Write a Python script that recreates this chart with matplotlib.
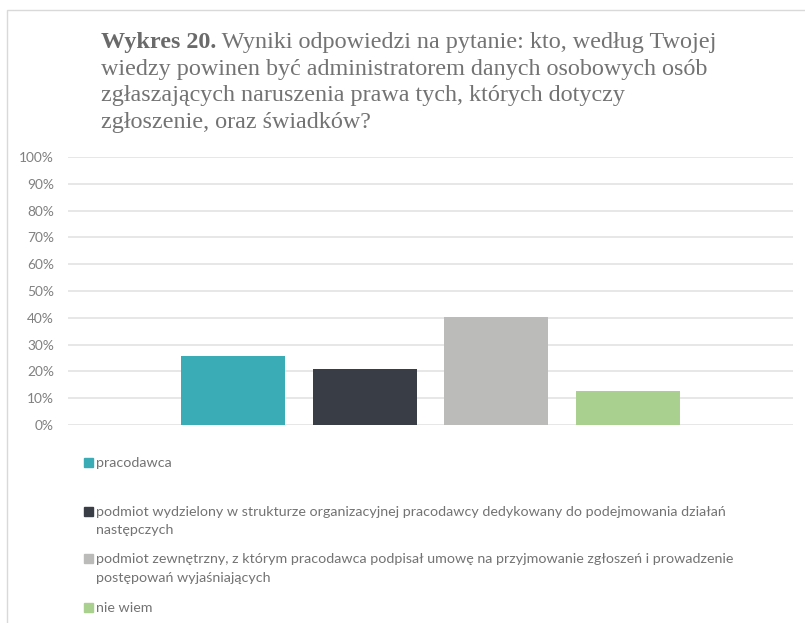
import matplotlib
matplotlib.use("Agg")
import matplotlib.pyplot as plt
from matplotlib.patches import Rectangle
from matplotlib.ticker import PercentFormatter

# --- data ---
categories = [
    ["pracodawca"],
    ["podmiot wydzielony w strukturze organizacyjnej pracodawcy dedykowany do podejmowania działań",
     "następczych"],
    ["podmiot zewnętrzny, z którym pracodawca podpisał umowę na przyjmowanie zgłoszeń i prowadzenie",
     "postępowań wyjaśniających"],
    ["nie wiem"],
]
values = [0.257, 0.209, 0.403, 0.127]
colors = ["#3AACB5", "#393D46", "#BBBBBA", "#A9D08E"]
yticks = [i / 10 for i in range(11)]

title_bold = "Wykres 20."
title_lines = [
    " Wyniki odpowiedzi na pytanie: kto, według Twojej",
    "wiedzy powinen być administratorem danych osobowych osób",
    "zgłaszających naruszenia prawa tych, których dotyczy",
    "zgłoszenie, oraz świadków?",
]

W, H = 805, 623
DPI = 100
fig = plt.figure(figsize=(W / DPI, H / DPI), dpi=DPI)
fig.patch.set_facecolor("white")

def fx(px):
    return px / W

def fy(py):
    return 1 - py / H

# chart frame (left and top edges visible)
frame = Rectangle((fx(7), fy(640)), fx(820) - fx(7), fy(10) - fy(640),
                  transform=fig.transFigure, fill=False, edgecolor="#D9D9D9",
                  linewidth=1.0)
fig.add_artist(frame)

# --- axes ---
ax_left, ax_right, ax_top, ax_bottom = 68, 793, 157, 425
ax = fig.add_axes([fx(ax_left), fy(ax_bottom), fx(ax_right - ax_left),
                   (ax_bottom - ax_top) / H])

n = len(values)
bar_w = 0.1434
step = 0.182
offsets = [(i - (n - 1) / 2) * step for i in range(n)]
for off, v, c in zip(offsets, values, colors):
    ax.bar(off, v, width=bar_w, color=c, zorder=3)

ax.set_xlim(-0.5, 0.5)
ax.set_ylim(0, 1)
ax.set_yticks(yticks)
ax.yaxis.set_major_formatter(PercentFormatter(1.0, decimals=0))
ax.set_xticks([])
ax.grid(axis="y", color="#E3E3E3", linewidth=1.2, zorder=0)
for s in ax.spines.values():
    s.set_visible(False)
ax.tick_params(axis="y", length=0, pad=10, labelsize=9.9, labelcolor="#808080")
for lbl in ax.get_yticklabels():
    lbl.set_fontfamily("Lato")

# --- title ---
title_color = "#737373"
title_size = 17.4
tx, ty, tstep = 101, 48, 26.7
t1 = fig.text(fx(tx), fy(ty), title_bold, family="Liberation Serif",
              fontsize=title_size, fontweight="bold", color="#6A6A6A",
              va="baseline")
fig.canvas.draw()
bb = t1.get_window_extent()
for i, line in enumerate(title_lines):
    x0 = bb.x1 / W if i == 0 else fx(tx)
    fig.text(x0, fy(ty + i * tstep), line, family="Liberation Serif",
             fontsize=title_size, color=title_color, va="baseline")

# --- legend ---
leg_center = [462, 511, 558, 607]
leg_step = 18.5
for yc, lines, c in zip(leg_center, categories, colors):
    fig.add_artist(Rectangle((fx(84), fy(yc + 4.5)), fx(9), 9 / H,
                             transform=fig.transFigure, color=c))
    for j, line in enumerate(lines):
        fig.text(fx(96), fy(yc + j * leg_step), line, family="Lato",
                 fontsize=10.3, color="#737373", va="center_baseline")

fig.savefig("out.png", dpi=DPI)
